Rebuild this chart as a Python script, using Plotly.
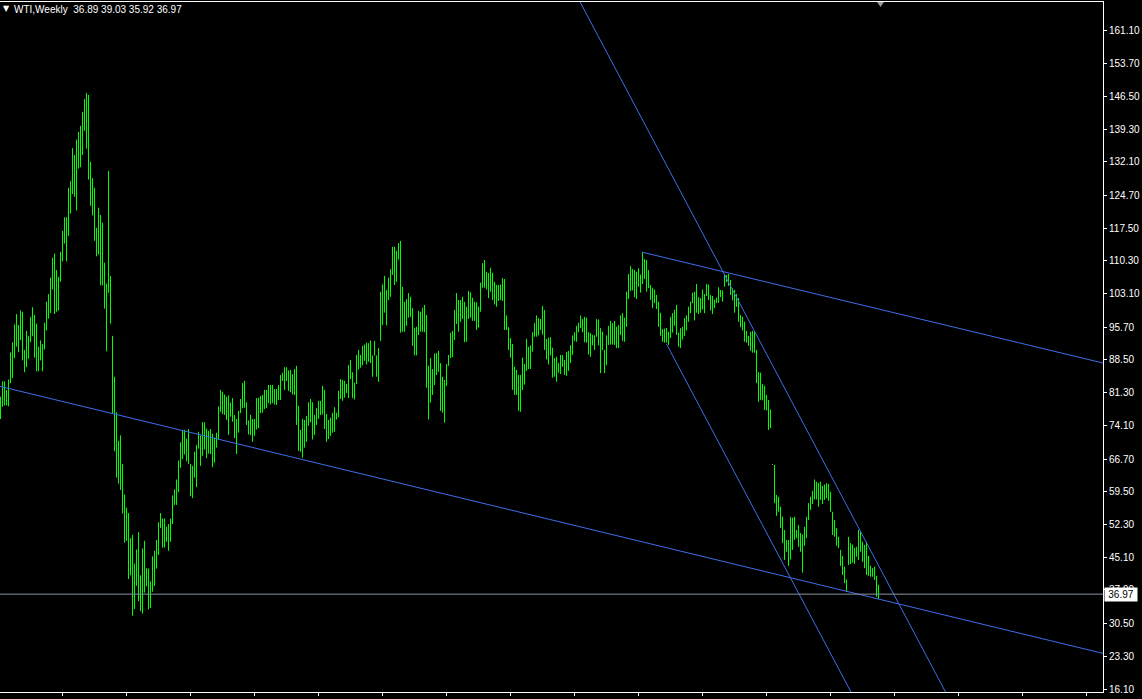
import numpy as np
import plotly.graph_objects as go

# ---------------- data ----------------
symbol = "WTI,Weekly"
last_open = 36.89
last_close = 36.97

highs_a = [80.4, 83.8, 83.8, 81.9, 84.2, 90.2, 92.4, 96.3, 98.6, 96.2,
           99.4, 99.1, 90.7, 94.9, 93.8, 98.0, 100.1, 98.4, 96.5, 91.4,
           92.8, 92.0, 96.7, 101.3, 103.0, 106.6, 111.0, 111.9, 108.3, 106.8,
           112.3, 116.9, 119.9, 119.9, 126.4, 127.9, 135.1, 133.6, 137.0, 138.7,
           140.0, 143.1, 145.9, 147.3, 146.8, 132.1, 128.5, 126.4, 117.6, 122.0,
           120.4, 118.7, 109.9, 105.3, 130.1, 107.0, 93.8, 84.8, 77.0, 70.7,
           71.9, 65.6, 58.9, 56.0, 54.8, 49.3, 50.0, 43.7, 46.8, 50.6,
           41.1, 47.0, 48.7, 42.7, 42.6, 39.8, 45.3, 46.5, 48.9, 52.8,
           54.8, 53.6, 53.6, 51.8, 52.4, 53.6, 58.7, 60.0, 62.2, 66.4,
           70.4, 73.1, 73.1, 71.2, 73.3, 65.6, 65.2, 68.3, 69.8, 72.7,
           71.9, 74.8, 74.8, 73.4, 72.9, 73.3, 72.3, 71.4, 72.5, 78.3]
lows_a = [75.5, 78.2, 78.5, 78.5, 78.3, 83.4, 84.5, 88.9, 91.4, 90.2,
          92.9, 88.4, 85.8, 86.9, 88.8, 92.4, 93.7, 89.0, 86.0, 86.0,
          88.4, 86.0, 90.8, 95.0, 97.6, 98.8, 104.0, 98.6, 99.1, 99.4,
          105.7, 110.2, 114.1, 110.2, 115.8, 120.7, 125.0, 124.4, 121.4, 130.6,
          130.9, 133.6, 138.9, 135.0, 128.2, 122.4, 120.3, 114.7, 111.3, 111.7,
          104.9, 104.9, 99.8, 90.4, 103.3, 96.5, 76.7, 68.4, 62.6, 61.3,
          59.9, 54.7, 48.3, 48.7, 40.3, 41.1, 32.2, 33.7, 38.8, 35.4,
          33.2, 32.7, 37.3, 38.7, 33.6, 33.9, 37.5, 38.8, 42.6, 45.6,
          51.5, 47.2, 47.2, 48.5, 46.5, 48.5, 52.4, 56.6, 56.6, 59.4,
          64.8, 66.7, 67.7, 66.2, 65.6, 58.5, 58.1, 62.6, 60.5, 69.0,
          65.2, 67.4, 68.8, 66.9, 67.9, 67.8, 64.9, 65.9, 69.2, 71.0]

highs_b = [81.9, 81.5, 80.9, 80.4, 80.7, 79.1, 80.1, 76.4, 75.5, 77.3,
           79.9, 83.4, 83.9, 79.2, 75.2, 76.4, 75.5, 75.5, 80.1, 80.2,
           80.6, 80.8, 81.9, 81.9, 83.0, 83.0, 83.0, 82.1, 82.1, 83.0,
           85.2, 85.7, 86.9, 86.9, 86.2, 86.3, 85.4, 86.5, 87.2, 78.4,
           73.1, 75.5, 75.3, 76.2, 79.2, 79.9, 79.2, 76.4, 77.9, 79.5,
           79.5, 82.8, 81.9, 76.6, 75.3, 75.8, 76.9, 78.1, 76.9, 81.7,
           84.3, 84.1, 83.9, 83.2, 87.4, 88.5, 85.8, 83.5, 89.6, 90.7,
           89.6, 91.6, 91.9, 92.3, 92.2, 92.8, 89.5, 92.7, 89.5, 91.1,
           103.5, 105.1, 107.0, 103.9, 106.6, 108.5, 113.4, 113.4, 112.5, 114.2,
           114.7, 104.6, 101.3, 101.9, 103.2, 102.4, 99.9, 95.6, 95.8, 99.3,
           99.1, 100.0, 100.6, 98.4, 87.2, 88.9, 86.5, 89.9, 90.0, 90.5]
lows_b = [77.1, 76.6, 76.4, 75.3, 72.0, 76.0, 74.9, 71.3, 67.8, 72.5,
          76.8, 77.9, 78.0, 74.2, 72.1, 72.0, 70.5, 71.8, 73.2, 73.5,
          76.8, 76.9, 77.7, 77.9, 79.0, 78.7, 79.0, 78.7, 78.6, 79.7,
          79.7, 83.9, 81.9, 83.9, 81.7, 81.4, 80.9, 80.8, 74.2, 68.5,
          68.3, 67.0, 69.2, 70.5, 74.0, 74.8, 71.0, 72.0, 74.2, 75.5,
          76.4, 76.5, 73.3, 70.5, 71.1, 71.8, 72.5, 72.7, 75.4, 75.9,
          79.9, 79.5, 80.2, 81.2, 80.1, 84.3, 80.1, 79.8, 83.2, 86.4,
          86.8, 87.3, 88.3, 87.5, 88.1, 87.8, 84.8, 89.5, 84.8, 83.7,
          92.7, 96.2, 98.9, 96.1, 101.7, 102.4, 107.2, 105.0, 105.7, 110.6,
          94.5, 94.7, 94.7, 96.0, 97.8, 98.0, 91.6, 89.5, 89.5, 94.0,
          94.7, 94.7, 94.6, 82.4, 75.4, 79.1, 80.8, 83.0, 85.2, 85.9]

highs_c = [87.8, 84.8, 84.1, 87.6, 89.6, 94.5, 94.9, 99.5, 103.2, 101.7,
           101.7, 102.4, 101.3, 100.2, 103.7, 103.4, 102.2, 101.3, 101.2, 100.2,
           105.5, 109.8, 110.5, 107.9, 107.6, 108.8, 107.7, 105.7, 105.0, 105.0,
           105.1, 106.5, 106.3, 98.3, 95.7, 93.3, 92.0, 87.0, 86.3, 85.2,
           85.2, 89.0, 87.6, 93.1, 91.4, 91.7, 94.6, 96.6, 98.3, 97.7,
           97.5, 100.4, 99.5, 93.1, 93.4, 93.5, 91.2, 88.9, 89.2, 87.8,
           89.6, 89.6, 88.5, 90.3, 90.5, 91.7, 93.9, 94.6, 96.0, 96.7,
           98.3, 97.5, 98.0, 97.8, 94.6, 94.4, 94.0, 93.9, 97.5, 97.4,
           95.5, 94.7, 90.7, 93.9, 96.0, 97.1, 96.6, 97.1, 95.8, 96.2,
           98.3, 98.8, 97.8, 103.5, 107.4, 109.2, 108.5, 108.3, 107.9, 108.7,
           107.3, 112.2, 110.7, 110.5, 108.3, 105.0, 104.4, 104.0, 102.8, 101.3]
lows_c = [77.3, 76.9, 74.7, 82.8, 87.2, 88.9, 89.1, 92.9, 96.4, 94.7,
          96.9, 97.5, 92.4, 92.5, 97.5, 97.8, 97.1, 97.1, 95.1, 95.6,
          99.1, 104.4, 104.4, 104.0, 102.1, 103.5, 101.7, 100.7, 100.2, 101.5,
          101.7, 101.5, 95.1, 95.1, 90.7, 89.0, 81.9, 80.8, 80.8, 77.3,
          77.1, 81.9, 83.1, 86.1, 86.5, 86.5, 90.3, 93.6, 93.6, 93.9,
          95.1, 94.1, 90.7, 88.6, 87.5, 89.5, 84.6, 84.8, 83.7, 85.7,
          85.4, 87.0, 85.2, 85.0, 86.1, 87.8, 89.6, 92.7, 92.5, 94.6,
          95.5, 94.6, 92.4, 92.3, 89.7, 89.2, 91.7, 90.7, 93.6, 91.7,
          85.6, 90.7, 85.6, 87.4, 91.8, 91.9, 91.9, 91.8, 91.1, 91.1,
          94.0, 92.7, 92.5, 95.8, 101.9, 103.7, 103.8, 102.3, 101.9, 104.6,
          103.3, 105.2, 106.3, 103.5, 104.3, 101.7, 99.9, 101.0, 99.7, 95.8]

highs_d = [98.9, 95.3, 95.4, 95.5, 94.7, 98.0, 98.8, 99.5, 100.6, 94.5,
           95.5, 95.8, 97.7, 98.3, 100.2, 101.3, 103.3, 103.5, 105.2, 102.3,
           102.1, 104.0, 103.0, 105.2, 105.1, 102.8, 102.6, 101.8, 102.2, 104.5,
           103.9, 103.8, 107.4, 107.2, 107.4, 106.1, 104.3, 103.9, 103.0, 102.1,
           98.4, 98.0, 96.9, 94.9, 93.8, 94.7, 94.9, 94.7, 90.7, 85.8,
           85.7, 83.2, 82.8, 80.8, 79.7, 77.6, 65.6, 65.4, 58.8, 58.4,
           56.2, 54.0, 51.1, 48.9, 48.9, 54.0, 53.8, 54.0, 51.1, 52.2,
           50.4, 50.1, 51.8, 54.0, 57.0, 58.4, 59.7, 62.2, 61.7, 61.4,
           61.7, 60.8, 61.1, 61.4, 61.2, 59.5, 55.1, 53.3, 51.5, 49.6,
           46.7, 45.4, 43.0, 40.2, 49.6, 48.2, 47.9, 47.2, 47.4, 51.1,
           50.7, 48.5, 47.8, 48.5, 45.4, 43.2, 42.7, 43.0, 41.0, 39.03]
lows_d = [93.8, 92.5, 92.3, 92.3, 91.8, 93.3, 94.5, 96.0, 94.0, 91.4,
          91.1, 93.0, 93.8, 95.0, 96.9, 98.8, 101.0, 97.2, 98.9, 98.6,
          98.9, 99.6, 98.8, 102.6, 101.7, 99.4, 98.6, 99.9, 101.0, 101.1,
          102.3, 101.3, 104.6, 105.6, 104.8, 102.8, 101.6, 98.9, 100.2, 96.9,
          95.7, 95.0, 92.5, 92.3, 91.6, 90.5, 90.1, 90.1, 83.4, 79.3,
          79.7, 79.6, 77.5, 77.4, 73.1, 73.5, 65.4, 57.0, 54.2, 55.1,
          51.5, 48.2, 44.5, 46.3, 43.2, 44.6, 46.7, 48.9, 49.3, 47.4,
          46.3, 41.7, 47.6, 49.3, 53.3, 55.5, 56.8, 57.8, 57.8, 56.2,
          57.7, 56.8, 57.7, 58.1, 57.5, 55.1, 50.0, 49.6, 47.6, 47.1,
          43.2, 41.2, 39.4, 37.5, 43.4, 43.6, 43.9, 43.6, 45.2, 44.5,
          46.3, 44.1, 42.7, 41.2, 41.0, 40.8, 40.8, 40.1, 36.4, 35.92]

# trend-line anchors: (bar index, price)
line_support = [(56, 76.7), (423, 37.6)]          # long lower line, extended both ways
line_channel_top = [(321, 112.2), (362, 107.86)]  # ray to the right
line_steep_upper = [(361, 108.1), (429, 51.6)]    # extended both ways
line_steep_lower = [(333, 92.0), (395, 40.54)]    # ray to the right

ytick_vals = [161.10, 153.70, 146.50, 139.30, 132.10, 124.70, 117.50, 110.30,
              103.10, 95.70, 88.50, 81.30, 74.10, 66.70, 59.50, 52.30, 45.10,
              37.90, 30.50, 23.30, 16.10]

# ---------------- build ----------------
highs = highs_a + highs_b + highs_c + highs_d
lows = lows_a + lows_b + lows_c + lows_d
n = len(highs)

XR = [-0.25, 551.25]
YR = [15.44, 167.26]

bx, by = [], []
for i, (h, l) in enumerate(zip(highs, lows)):
    bx += [i, i, None]
    by += [l, h, None]

fig = go.Figure()
fig.add_trace(go.Scatter(x=bx, y=by, mode="lines",
                         line=dict(color="#00FF00", width=1),
                         hoverinfo="skip", connectgaps=False))


def line_xy(pts, ray):
    (x0, y0), (x1, y1) = pts
    k = (y1 - y0) / (x1 - x0)
    xa = x0 if ray else XR[0]
    xb = XR[1]
    return [xa, xb], [y0 + k * (xa - x0), y0 + k * (xb - x0)]


blue = "#3F6EEA"
for pts, ray in [(line_support, False), (line_channel_top, True),
                 (line_steep_upper, False), (line_steep_lower, True)]:
    lx, ly = line_xy(pts, ray)
    fig.add_trace(go.Scatter(x=lx, y=ly, mode="lines",
                             line=dict(color=blue, width=1), hoverinfo="skip"))

font_fam = "Liberation Sans Narrow, Liberation Sans, Arial, sans-serif"

fig.update_layout(
    template="none",
    width=1142, height=699,
    margin=dict(l=0, r=39, t=2, b=7, pad=0),
    paper_bgcolor="black", plot_bgcolor="black",
    showlegend=False,
    xaxis=dict(range=XR, showgrid=False, zeroline=False, showline=True,
               linecolor="white", linewidth=1, mirror=True,
               ticks="outside", ticklen=3, tickcolor="white", tickwidth=1,
               tickmode="linear", tick0=30.75, dtick=32,
               showticklabels=False, fixedrange=True, automargin=False),
    yaxis=dict(range=YR, side="right", showgrid=False, zeroline=False,
               showline=True, linecolor="white", linewidth=1, mirror=False,
               ticks="outside", ticklen=3, tickcolor="white", tickwidth=1,
               tickmode="array", tickvals=ytick_vals,
               ticktext=[f"{v:.2f}" for v in ytick_vals],
               tickfont=dict(family=font_fam, size=10, color="white"),
               fixedrange=True, automargin=False),
)

# current price line
fig.add_shape(type="line", xref="paper", x0=0, x1=1, yref="y",
              y0=last_close, y1=last_close,
              line=dict(color="#8A96A3", width=1))

# price label on axis (covers the 37.90 tick label, as in the terminal)
fig.add_annotation(xref="paper", x=1, xanchor="left", xshift=1,
                   yref="y", y=last_close, yanchor="middle",
                   text=f"{last_close:.2f}", showarrow=False,
                   bgcolor="white", borderpad=1, width=30, align="center",
                   font=dict(family=font_fam, size=10, color="black"))

# header
fig.add_annotation(xref="paper", x=0, xanchor="left", xshift=1,
                   yref="paper", y=1, yanchor="top", yshift=0,
                   text="\u25bc", showarrow=False,
                   font=dict(family="DejaVu Sans", size=8, color="white"))
hdr = (f"{symbol}\u00a0\u00a0{last_open:.2f}\u00a0{highs[-1]:.2f}"
       f"\u00a0{lows[-1]:.2f}\u00a0{last_close:.2f}")
fig.add_annotation(xref="paper", x=0, xanchor="left", xshift=12,
                   yref="paper", y=1, yanchor="top", yshift=0,
                   text=hdr, showarrow=False,
                   font=dict(family=font_fam, size=10, color="white"))

# chart-shift marker
fig.add_shape(type="path", xref="x", yref="paper",
              path="M 438.25 1 L 441.75 1 L 440 0.9928 Z",
              fillcolor="#9A9A9A", line=dict(width=0))

fig.write_html("out.html", config={"displayModeBar": False},
               post_script="document.body.style.margin='0';document.body.style.overflow='hidden';")
